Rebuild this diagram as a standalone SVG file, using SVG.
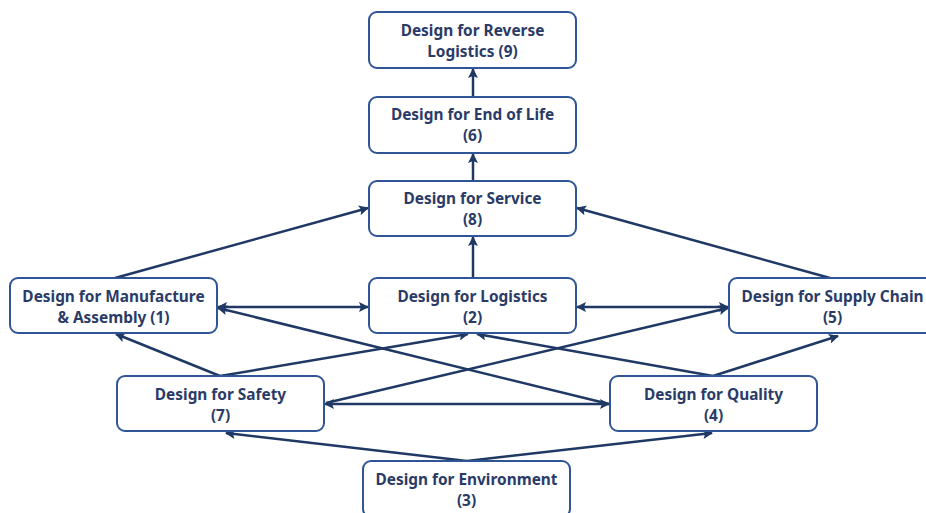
<svg xmlns="http://www.w3.org/2000/svg" width="926" height="513" viewBox="0 0 926 513">
<defs>
<marker id="ah" viewBox="0 0 10 10" refX="9" refY="5" markerWidth="11" markerHeight="10" markerUnits="userSpaceOnUse" orient="auto-start-reverse">
<path d="M0,0 L10,5 L0,10 L2,5 Z" fill="#1F3864"/>
</marker>
<style>
.node rect{fill:#fff;stroke:#2F5597;stroke-width:2}
.node text{font-family:"Noto Sans","Open Sans",sans-serif;font-weight:bold;font-size:15.4px;fill:#2B3B68;text-anchor:middle}
.conn line{stroke:#1F3864;stroke-width:2.5;fill:none}
.e{marker-end:url(#ah)}
.b{marker-start:url(#ah);marker-end:url(#ah)}
</style>
</defs>
<rect width="926" height="513" fill="#fff"/>
<g class="conn" id="connectors">
<line class="e" x1="473" y1="97" x2="473" y2="69"/>
<line class="e" x1="473" y1="181" x2="473" y2="154"/>
<line class="e" x1="473" y1="278" x2="473" y2="237"/>
<line class="e" x1="115" y1="278" x2="368" y2="208"/>
<line class="e" x1="830" y1="278" x2="577" y2="208"/>
<line class="b" x1="218" y1="307" x2="368" y2="307"/>
<line class="b" x1="577" y1="307" x2="728" y2="307"/>
<line class="e" x1="220" y1="376" x2="116" y2="334"/>
<line class="e" x1="220" y1="376" x2="468" y2="334"/>
<line class="e" x1="713" y1="376" x2="477" y2="334"/>
<line class="e" x1="713" y1="376" x2="838" y2="336"/>
<line class="e" x1="326" y1="403" x2="728" y2="308"/>
<line class="e" x1="609" y1="404" x2="218" y2="308"/>
<line class="b" x1="325" y1="404" x2="609" y2="404"/>
<line class="e" x1="467" y1="461" x2="226" y2="433"/>
<line class="e" x1="467" y1="461" x2="712" y2="433"/>
</g>
<g class="node" id="n9"><rect x="369" y="12" width="207" height="56" rx="8"/><text x="472.5" y="36">Design for Reverse</text><text x="472.5" y="57">Logistics (9)</text></g>
<g class="node" id="n6"><rect x="369" y="97" width="207" height="56" rx="8"/><text x="472.5" y="120">Design for End of Life</text><text x="472.5" y="141">(6)</text></g>
<g class="node" id="n8"><rect x="369" y="181" width="207" height="55" rx="8"/><text x="472.5" y="204">Design for Service</text><text x="472.5" y="225">(8)</text></g>
<g class="node" id="n1"><rect x="10" y="278" width="207" height="55" rx="8"/><text x="113.5" y="302">Design for Manufacture</text><text x="113.5" y="323">&amp; Assembly (1)</text></g>
<g class="node" id="n2"><rect x="369" y="278" width="207" height="55" rx="8"/><text x="472.5" y="302">Design for Logistics</text><text x="472.5" y="323">(2)</text></g>
<g class="node" id="n5"><rect x="729" y="278" width="207" height="55" rx="8"/><text x="832.5" y="302">Design for Supply Chain</text><text x="832.5" y="323">(5)</text></g>
<g class="node" id="n7"><rect x="117" y="376" width="207" height="55" rx="8"/><text x="220.5" y="400">Design for Safety</text><text x="220.5" y="421">(7)</text></g>
<g class="node" id="n4"><rect x="610" y="376" width="207" height="55" rx="8"/><text x="713.5" y="400">Design for Quality</text><text x="713.5" y="421">(4)</text></g>
<g class="node" id="n3"><rect x="363" y="461" width="207" height="56" rx="8"/><text x="466.5" y="485">Design for Environment</text><text x="466.5" y="506">(3)</text></g>
</svg>
